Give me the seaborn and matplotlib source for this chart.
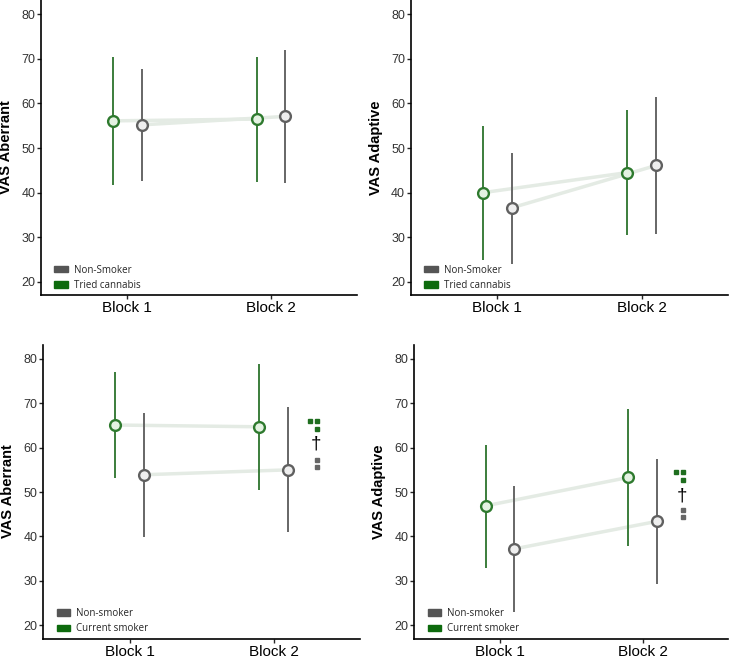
import matplotlib
matplotlib.use("Agg")
import matplotlib.pyplot as plt
from matplotlib.patches import Patch
import seaborn as sns
import pandas as pd
import numpy as np

sns.set_style("ticks")
plt.rcParams['font.family'] = ['Liberation Sans', 'DejaVu Sans']

blocks = ["Block 1", "Block 2"]

# top row: tried cannabis vs non-smoker
ab_top_green = [56.1, 56.5]
ab_top_green_lo = [41.7, 42.5]
ab_top_green_hi = [70.5, 70.4]
ab_top_grey = [55.2, 57.1]
ab_top_grey_lo = [42.6, 42.1]
ab_top_grey_hi = [67.8, 72.1]

ad_top_green = [40.0, 44.5]
ad_top_green_lo = [25.0, 30.5]
ad_top_green_hi = [55.0, 58.5]
ad_top_grey = [36.6, 46.1]
ad_top_grey_lo = [24.0, 30.7]
ad_top_grey_hi = [49.0, 61.4]

# bottom row: current smoker vs non-smoker
ab_bot_green = [65.1, 64.7]
ab_bot_green_lo = [53.2, 50.5]
ab_bot_green_hi = [77.0, 78.9]
ab_bot_grey = [53.9, 55.0]
ab_bot_grey_lo = [39.8, 40.9]
ab_bot_grey_hi = [67.9, 69.2]

ad_bot_green = [46.9, 53.3]
ad_bot_green_lo = [33.0, 37.8]
ad_bot_green_hi = [60.7, 68.8]
ad_bot_grey = [37.2, 43.4]
ad_bot_grey_lo = [23.0, 29.2]
ad_bot_grey_hi = [51.3, 57.5]

# significance symbols (x in category units, y in VAS units)
sig_ab_green = [(1.25, 65.9), (1.30, 65.9), (1.30, 64.2)]
sig_ab_grey = [(1.30, 57.3), (1.30, 55.6)]
sig_ab_dagger = (1.295, 60.8)
sig_ad_green = [(1.23, 54.5), (1.28, 54.5), (1.28, 52.8)]
sig_ad_grey = [(1.28, 46.0), (1.28, 44.3)]
sig_ad_dagger = (1.275, 49.0)

GREEN_LINE = "#3b7d3b"
GREEN_EDGE = "#2e7a2e"
GREEN_FILL = "#e4f2e2"
GREY_LINE = "#666666"
GREY_EDGE = "#606060"
GREY_FILL = "#eeeeee"
CONNECT = "#e4ebe4"


def make_df(g, glo, ghi, n, nlo, nhi, gname, nname):
    rows = []
    for i in range(2):
        rows.append(dict(block=i, group=gname, x=i - 0.1, mean=g[i], lo=glo[i], hi=ghi[i]))
        rows.append(dict(block=i, group=nname, x=i + 0.1, mean=n[i], lo=nlo[i], hi=nhi[i]))
    return pd.DataFrame(rows)


def panel(ax, df, gname, nname, ylabel, sig=None):
    sns.lineplot(data=df, x="x", y="mean", units="group", estimator=None,
                 color=CONNECT, lw=2.5, ax=ax, legend=False, zorder=1)
    dg = df[df.group == gname]
    dn = df[df.group == nname]
    ax.vlines(dg.x, dg.lo, dg.hi, colors=GREEN_LINE, lw=1.4, zorder=2)
    ax.vlines(dn.x, dn.lo, dn.hi, colors=GREY_LINE, lw=1.4, zorder=2)
    sns.scatterplot(data=dg, x="x", y="mean", color=GREEN_FILL, edgecolor=GREEN_EDGE,
                    linewidth=1.7, s=60, ax=ax, zorder=3, legend=False)
    sns.scatterplot(data=dn, x="x", y="mean", color=GREY_FILL, edgecolor=GREY_EDGE,
                    linewidth=1.7, s=60, ax=ax, zorder=3, legend=False)
    if sig is not None:
        green_pts, grey_pts, dag = sig
        ax.plot([p[0] for p in green_pts], [p[1] for p in green_pts], "s",
                color="#1f6e1f", ms=3.4, ls="none")
        ax.plot([p[0] for p in grey_pts], [p[1] for p in grey_pts], "s",
                color="#666666", ms=3.4, ls="none")
        ax.text(dag[0], dag[1], "\u2020", ha="center", va="center", fontsize=13.5, color="black")
    ax.set_xlim(-0.6, 1.6)
    ax.set_ylim(17, 83.2)
    ax.set_xticks([0, 1])
    ax.set_xticklabels(blocks, fontsize=11, color="black")
    ax.set_yticks([20, 30, 40, 50, 60, 70, 80])
    ax.tick_params(axis="y", labelsize=9, labelcolor="#333333", length=3, width=1, pad=1)
    ax.tick_params(axis="x", length=3, width=1, pad=1.5)
    ax.set_xlabel("")
    ax.set_ylabel(ylabel, fontsize=10.5, fontweight="bold", color="black")
    # label edge ~28 px left of the spine so it stays inside the figure
    w_px = ax.get_position().width * 732
    ax.yaxis.set_label_coords(-28 / w_px, 0.5)
    for s in ["left", "bottom"]:
        ax.spines[s].set_linewidth(1.2)
        ax.spines[s].set_color("black")
    sns.despine(ax=ax)
    handles = [Patch(color="#555555", label=nname), Patch(color="#0d6a0d", label=gname)]
    ax.legend(handles=handles, loc="lower left", bbox_to_anchor=(0.015, -0.015), frameon=False,
              prop={"family": "Open Sans", "size": 7}, handlelength=1.4, handleheight=0.6,
              handletextpad=0.6, labelspacing=0.45)


fig = plt.figure(figsize=(7.32, 6.59), dpi=100)
ax1 = fig.add_axes([0.056, 0.552, 0.432, 0.448])
ax2 = fig.add_axes([0.561, 0.552, 0.434, 0.448])
ax3 = fig.add_axes([0.059, 0.031, 0.433, 0.446])
ax4 = fig.add_axes([0.566, 0.031, 0.429, 0.446])

d1 = make_df(ab_top_green, ab_top_green_lo, ab_top_green_hi,
             ab_top_grey, ab_top_grey_lo, ab_top_grey_hi, "Tried cannabis", "Non-Smoker")
d2 = make_df(ad_top_green, ad_top_green_lo, ad_top_green_hi,
             ad_top_grey, ad_top_grey_lo, ad_top_grey_hi, "Tried cannabis", "Non-Smoker")
d3 = make_df(ab_bot_green, ab_bot_green_lo, ab_bot_green_hi,
             ab_bot_grey, ab_bot_grey_lo, ab_bot_grey_hi, "Current smoker", "Non-smoker")
d4 = make_df(ad_bot_green, ad_bot_green_lo, ad_bot_green_hi,
             ad_bot_grey, ad_bot_grey_lo, ad_bot_grey_hi, "Current smoker", "Non-smoker")

panel(ax1, d1, "Tried cannabis", "Non-Smoker", "VAS Aberrant")
panel(ax2, d2, "Tried cannabis", "Non-Smoker", "VAS Adaptive")
panel(ax3, d3, "Current smoker", "Non-smoker", "VAS Aberrant",
      sig=(sig_ab_green, sig_ab_grey, sig_ab_dagger))
panel(ax4, d4, "Current smoker", "Non-smoker", "VAS Adaptive",
      sig=(sig_ad_green, sig_ad_grey, sig_ad_dagger))

fig.savefig("out.png", dpi=100)
